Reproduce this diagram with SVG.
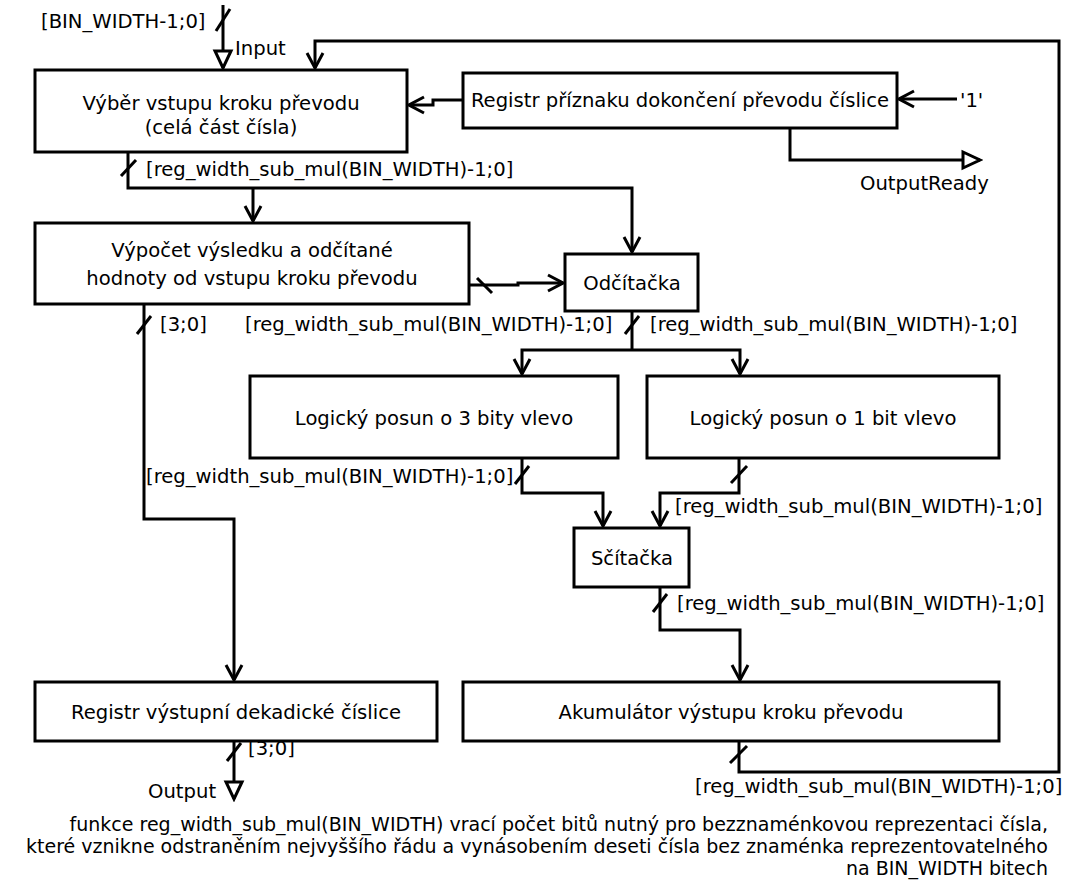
<svg xmlns="http://www.w3.org/2000/svg" width="1065" height="881" viewBox="0 0 1065 881">
  <style>
    .box { fill: #ffffff; stroke: #000000; stroke-width: 3; }
    .wire { fill: none; stroke: #000000; stroke-width: 3; }
    .tick { stroke: #000000; stroke-width: 3; }
    text { font-family: "DejaVu Sans", "Noto Sans", sans-serif; font-size: 19.6px; fill: #000000; }
    .c { text-anchor: middle; }
    .e { text-anchor: end; }
    .note { font-size: 19px; }
  </style>
  <defs>
    <marker id="arrow" markerUnits="userSpaceOnUse" markerWidth="20" markerHeight="20" viewBox="-18 -10 20 20" refX="0" refY="0" orient="auto">
      <path d="M-15,-8 L0,0 L-15,8" fill="none" stroke="#000000" stroke-width="3"/>
    </marker>
    <marker id="port" markerUnits="userSpaceOnUse" markerWidth="24" markerHeight="24" viewBox="-21 -11 24 22" refX="0" refY="0" orient="auto">
      <path d="M-17,-8 L0,0 L-17,8 Z" fill="#ffffff" stroke="#000000" stroke-width="3"/>
    </marker>
  </defs>

  <rect width="1065" height="881" fill="#ffffff"/>

  <!-- wires -->
  <g id="connectors">
    <path class="wire" d="M223,5 V68" marker-end="url(#port)"/>
    <path class="wire" d="M739,741 V772 H1059 V41 H315 V68" marker-end="url(#arrow)"/>
    <path class="wire" d="M463,100 H433 V105 H409" marker-end="url(#arrow)"/>
    <path class="wire" d="M957,99 H899" marker-end="url(#arrow)"/>
    <path class="wire" d="M790,128 V160 H980" marker-end="url(#port)"/>
    <path class="wire" d="M128,152 V188 H632 V252" marker-end="url(#arrow)"/>
    <path class="wire" d="M253,188 V221" marker-end="url(#arrow)"/>
    <path class="wire" d="M469,285 H518 V283 H563" marker-end="url(#arrow)"/>
    <path class="wire" d="M632,311 V350"/>
    <path class="wire" d="M632,350 H522 V374" marker-end="url(#arrow)"/>
    <path class="wire" d="M632,350 H740 V374" marker-end="url(#arrow)"/>
    <path class="wire" d="M522,458 V493 H603 V526" marker-end="url(#arrow)"/>
    <path class="wire" d="M739,458 V493 H660 V526" marker-end="url(#arrow)"/>
    <path class="wire" d="M660,587 V630 H740 V680" marker-end="url(#arrow)"/>
    <path class="wire" d="M144,304 V519 H234 V680" marker-end="url(#arrow)"/>
    <path class="wire" d="M234,741 V799" marker-end="url(#port)"/>

    <!-- bus width ticks -->
    <line class="tick" x1="216" y1="31" x2="230" y2="9"/>
    <line class="tick" x1="121" y1="176" x2="136" y2="160"/>
    <line class="tick" x1="477" y1="278" x2="492" y2="293"/>
    <line class="tick" x1="137" y1="334" x2="151" y2="316"/>
    <line class="tick" x1="625" y1="334" x2="639" y2="316"/>
    <line class="tick" x1="515" y1="484" x2="529" y2="466"/>
    <line class="tick" x1="731" y1="483" x2="747" y2="466"/>
    <line class="tick" x1="653" y1="612" x2="667" y2="594"/>
    <line class="tick" x1="730" y1="763" x2="747" y2="746"/>
    <line class="tick" x1="227" y1="761" x2="241" y2="743"/>

    <!-- wire labels -->
    <text x="41" y="28">[BIN_WIDTH-1;0]</text>
    <text x="235" y="55">Input</text>
    <text x="960" y="107">'1'</text>
    <text x="860" y="190">OutputReady</text>
    <text x="146" y="176">[reg_width_sub_mul(BIN_WIDTH)-1;0]</text>
    <text x="160" y="331">[3;0]</text>
    <text x="245" y="331">[reg_width_sub_mul(BIN_WIDTH)-1;0]</text>
    <text x="650" y="331">[reg_width_sub_mul(BIN_WIDTH)-1;0]</text>
    <text x="146" y="483">[reg_width_sub_mul(BIN_WIDTH)-1;0]</text>
    <text x="675" y="513">[reg_width_sub_mul(BIN_WIDTH)-1;0]</text>
    <text x="677" y="610">[reg_width_sub_mul(BIN_WIDTH)-1;0]</text>
    <text x="248" y="755">[3;0]</text>
    <text x="148" y="798">Output</text>
    <text x="695" y="793">[reg_width_sub_mul(BIN_WIDTH)-1;0]</text>
  </g>

  <!-- blocks -->
  <g id="vyber-vstupu">
    <rect class="box" x="35" y="70" width="372" height="82"/>
    <text class="c" x="221" y="110">Výběr vstupu kroku převodu</text>
    <text class="c" x="221" y="134">(celá část čísla)</text>
  </g>
  <g id="registr-priznaku">
    <rect class="box" x="463" y="73" width="434" height="55"/>
    <text class="c" x="680" y="107">Registr příznaku dokončení převodu číslice</text>
  </g>
  <g id="vypocet-vysledku">
    <rect class="box" x="35" y="223" width="434" height="81"/>
    <text class="c" x="252" y="257">Výpočet výsledku a odčítané</text>
    <text class="c" x="252" y="285">hodnoty od vstupu kroku převodu</text>
  </g>
  <g id="odcitacka">
    <rect class="box" x="565" y="254" width="133" height="57"/>
    <text class="c" x="632" y="290">Odčítačka</text>
  </g>
  <g id="posun-3">
    <rect class="box" x="250" y="376" width="368" height="82"/>
    <text class="c" x="434" y="425">Logický posun o 3 bity vlevo</text>
  </g>
  <g id="posun-1">
    <rect class="box" x="647" y="376" width="352" height="82"/>
    <text class="c" x="823" y="425">Logický posun o 1 bit vlevo</text>
  </g>
  <g id="scitacka">
    <rect class="box" x="574" y="528" width="115" height="59"/>
    <text class="c" x="632" y="565">Sčítačka</text>
  </g>
  <g id="registr-vystupni">
    <rect class="box" x="35" y="682" width="402" height="59"/>
    <text class="c" x="236" y="719">Registr výstupní dekadické číslice</text>
  </g>
  <g id="akumulator">
    <rect class="box" x="463" y="682" width="536" height="59"/>
    <text class="c" x="731" y="719">Akumulátor výstupu kroku převodu</text>
  </g>

  <!-- footnote -->
  <g id="poznamka">
    <text class="e note" x="1048" y="831">funkce reg_width_sub_mul(BIN_WIDTH) vrací počet bitů nutný pro bezznaménkovou reprezentaci čísla,</text>
    <text class="e note" x="1048" y="853">které vznikne odstraněním nejvyššího řádu a vynásobením deseti čísla bez znaménka reprezentovatelného</text>
    <text class="e note" x="1048" y="875">na BIN_WIDTH bitech</text>
  </g>
</svg>
